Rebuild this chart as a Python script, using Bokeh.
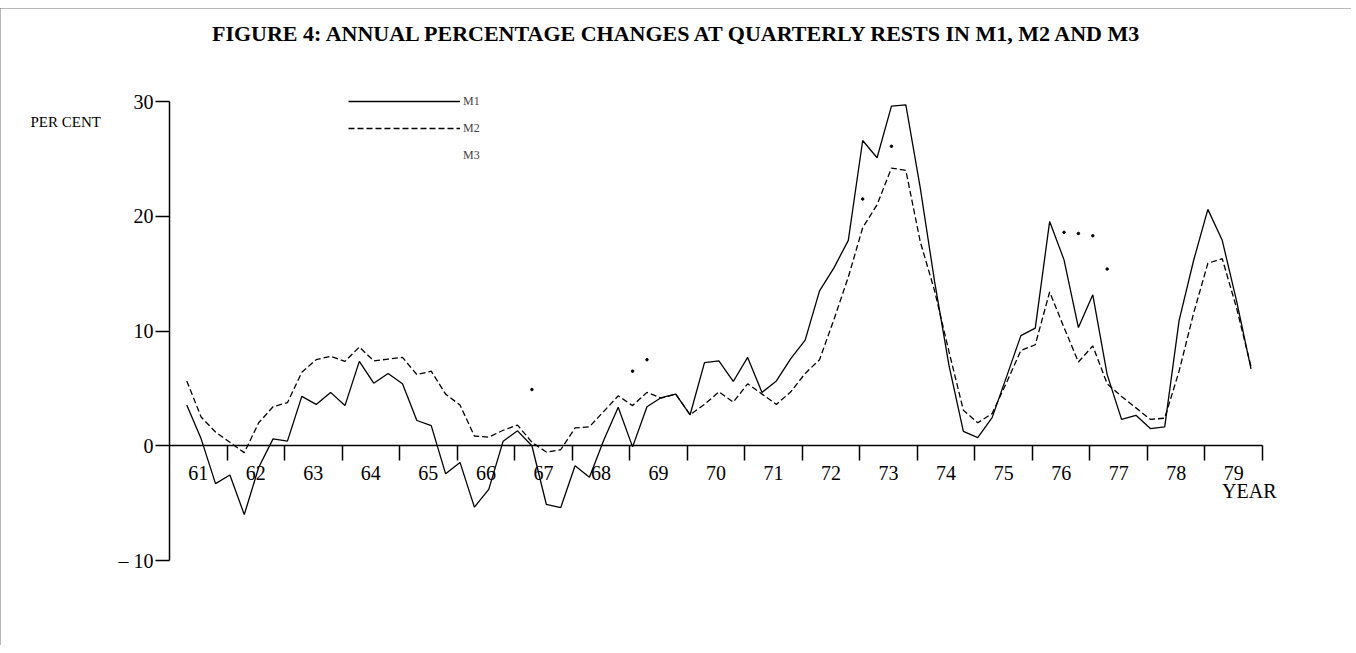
import math
from bokeh.plotting import figure
from bokeh.models import Range1d, FixedTicker, Legend, LegendItem, Label, LinearAxis
from bokeh.embed import file_html
from bokeh.resources import INLINE

NaN = float("nan")

# ---- data -------------------------------------------------------------
title_text = "FIGURE 4: ANNUAL PERCENTAGE CHANGES AT QUARTERLY RESTS IN M1, M2 AND M3"
years = list(range(1961, 1980))
year_labels = [str(y % 100) for y in years]
year_ticks = list(range(1962, 1981))
y_ticks = [-10, 0, 10, 20, 30]
y_tick_labels = {-10: "\u2013 10", 0: "0", 10: "10", 20: "20", 30: "30"}

first_quarter = 1961.25  # 1961 Q2 is the first plotted quarter

m1 = [3.55, 0.6, -3.3, -2.55, -6.0, -1.9, 0.6, 0.4, 4.3, 3.6,
      4.65, 3.5, 7.35, 5.45, 6.3, 5.4, 2.2, 1.75, -2.45, -1.45,
      -5.35, -3.8, 0.4, 1.3, 0.0, -5.1, -5.4, -1.75, -2.75, 0.5,
      3.35, -0.1, 3.4, 4.2, 4.5, 2.7, 7.25, 7.4, 5.6, 7.7,
      4.65, 5.65, 7.6, 9.2, 13.5, 15.5, 17.9, 26.6, 25.1, 29.6,
      29.7, 22.5, 14.3, 7.0, 1.25, 0.7, 2.45, 6.0, 9.6, 10.25,
      19.55, 16.2, 10.3, 13.15, 6.2, 2.3, 2.65, 1.5, 1.65, 10.9,
      16.1, 20.6, 17.9, 12.6, 6.7]

m2 = [5.65, 2.5, 1.2, 0.3, -0.6, 2.0, 3.4, 3.75, 6.4, 7.5,
      7.8, 7.35, 8.6, 7.4, 7.55, 7.7, 6.2, 6.5, 4.5, 3.55,
      0.85, 0.75, 1.35, 1.8, 0.3, -0.55, -0.35, 1.55, 1.65, 3.0,
      4.35, 3.5, 4.65, 4.15, 4.5, 2.7, 3.6, 4.7, 3.8, 5.4,
      4.5, 3.6, 4.7, 6.3, 7.5, 11.0, 14.7, 19.0, 21.0, 24.2,
      24.0, 17.8, 13.5, 8.2, 3.1, 2.0, 2.8, 5.5, 8.3, 8.8,
      13.4, 10.3, 7.3, 8.7, 5.4, 4.3, 3.3, 2.3, 2.4, 6.5,
      11.5, 15.9, 16.3, 12.0, 6.9]

# M3 survives only as scattered faint fragments in the print
m3 = [NaN] * 75
for _i, _v in [(24, 4.9), (31, 6.5), (32, 7.5), (47, 21.5), (49, 26.1),
               (61, 18.6), (62, 18.5), (63, 18.3), (64, 15.4)]:
    m3[_i] = _v

qx = [first_quarter + 0.05 + 0.25 * i for i in range(len(m1))]
m3x = [x for x, v in zip(qx, m3) if not math.isnan(v)]
m3y = [v for v in m3 if not math.isnan(v)]
label_pos = [y + 0.5 for y in years]

SERIF = "Liberation Serif"

# ---- geometry (frame fills the whole canvas) --------------------------
W, H = 1351, 637
PX_PER_YEAR = 1093 / 19.0
PX_PER_PCT = 459 / 40.0
x0 = 1961 - 169 / PX_PER_YEAR
x1 = x0 + W / PX_PER_YEAR
y1 = 30 + 93 / PX_PER_PCT
y0 = y1 - H / PX_PER_PCT

p = figure(width=W, height=H, output_backend="svg", toolbar_location=None,
           x_range=Range1d(x0, x1), y_range=Range1d(y0, y1),
           x_axis_location=None, y_axis_location=None,
           min_border=0, min_border_left=0, min_border_right=0,
           min_border_top=0, min_border_bottom=0)
p.grid.visible = False
p.outline_line_color = None
p.background_fill_color = "white"
p.border_fill_color = "white"
p.styles = {"outline": "3px solid #707070", "outline-offset": "-3px",
            "margin-top": "8px"}

# y axis drawn at x = 1961, spanning -10 .. 30
yax = LinearAxis(fixed_location=1961, bounds=(-10, 30),
                 ticker=FixedTicker(ticks=y_ticks),
                 major_label_overrides=y_tick_labels,
                 minor_tick_line_color=None, major_tick_in=0, major_tick_out=14,
                 major_tick_line_width=1.5, axis_line_width=1.5,
                 axis_line_color="black", major_tick_line_color="black",
                 major_label_text_font=SERIF, major_label_text_font_size="20px",
                 major_label_text_color="black", major_label_standoff=2)
p.add_layout(yax, "left")

# x axis drawn along zero: year labels centred in each year,
# year-boundary ticks as minor ticks hanging below the line
xax = LinearAxis(fixed_location=0, bounds=(1961, 1980),
                 ticker=FixedTicker(ticks=label_pos, minor_ticks=year_ticks),
                 major_label_overrides={pos: lab for pos, lab in zip(label_pos, year_labels)},
                 major_tick_in=0, major_tick_out=0, major_tick_line_color=None,
                 minor_tick_in=0, minor_tick_out=15, minor_tick_line_width=1.5,
                 minor_tick_line_color="black",
                 axis_line_width=1.5, axis_line_color="black",
                 major_label_text_font=SERIF, major_label_text_font_size="20px",
                 major_label_text_color="black", major_label_standoff=5)
p.add_layout(xax, "below")

p.add_layout(Label(x=1979.77, y=-3.9, text="YEAR", text_align="center",
                   text_baseline="middle", text_font=SERIF, text_font_size="20px",
                   text_color="black"))

# series
r1 = p.line(qx, m1, line_color="black", line_width=1.3)
r2 = p.line(qx, m2, line_color="black", line_width=1.3, line_dash="6 3")
p.scatter(m3x, m3y, size=2.5, color="black", marker="circle")
r3 = p.line(m3x, m3y, line_alpha=0)  # M3's key line has faded out in the print

legend = Legend(items=[LegendItem(label="M1", renderers=[r1]),
                       LegendItem(label="M2", renderers=[r2]),
                       LegendItem(label="M3", renderers=[r3])],
                location=(348, 478), orientation="vertical",
                glyph_width=112, glyph_height=24, label_height=24,
                spacing=3, padding=0, margin=0, label_standoff=3,
                label_text_font=SERIF, label_text_font_size="12px",
                border_line_color=None, background_fill_alpha=0)
p.add_layout(legend)

p.add_layout(Label(x=1958.584, y=28.17, text="PER CENT", text_align="left",
                   text_baseline="middle", text_font=SERIF, text_font_size="15px",
                   text_color="black"))
p.add_layout(Label(x=1969.85, y=35.93, text=title_text, text_align="center",
                   text_baseline="middle", text_font=SERIF, text_font_size="22px",
                   text_font_style="bold", text_color="black"))

open("out.html", "w").write(file_html(p, INLINE))
